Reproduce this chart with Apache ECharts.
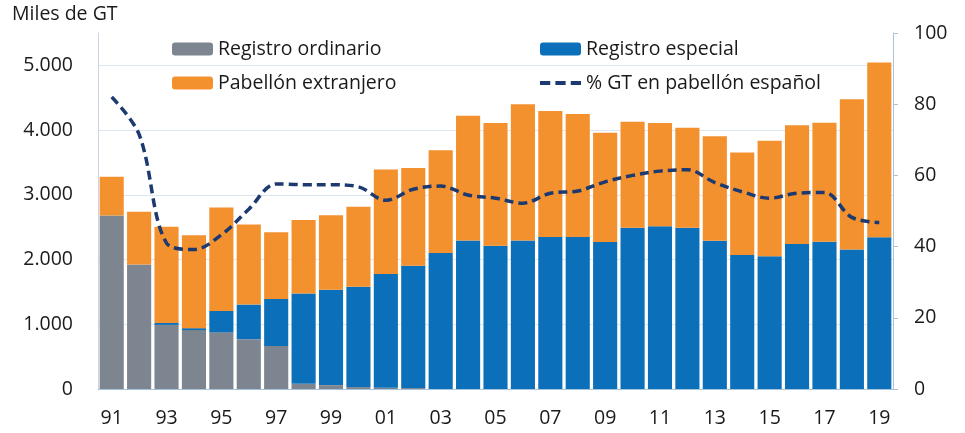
<!DOCTYPE html>
<html>
<head>
<meta charset="utf-8">
<script src="https://cdn.jsdelivr.net/npm/echarts@6/dist/echarts.min.js"></script>
<style>
  html, body { margin: 0; padding: 0; background: #fff; }
  #chart { width: 965px; height: 433px; }
</style>
</head>
<body>
<div id="chart"></div>
<script>
var years = ['91','92','93','94','95','96','97','98','99','00','01','02','03','04','05','06','07','08','09','10','11','12','13','14','15','16','17','18','19'];
var ordinario = [2680,1925,990,910,875,770,665,80,60,30,20,15,0,0,0,0,0,0,0,0,0,0,0,0,0,0,0,0,0];
var especial = [0,0,30,30,330,535,725,1395,1475,1550,1755,1890,2100,2295,2215,2295,2350,2350,2270,2490,2515,2490,2290,2070,2050,2240,2275,2155,2345];
var extranjero = [600,815,1485,1435,1600,1235,1030,1135,1150,1235,1615,1510,1590,1925,1895,2105,1945,1900,1690,1640,1595,1545,1615,1585,1785,1835,1840,2320,2700];
var pctEspanol = [82,71.5,41,39.2,43.3,50.5,57.6,57.4,57.4,56.8,53,56.1,57,54.5,53.6,52.2,55,55.6,58.2,60,61.2,61.6,58,55.4,53.6,55,55.2,48.2,46.8];

var txt = '#1a1a1a';
var axisCol = '#a8c4dc';
var fontFam = '"Open Sans", Lato, sans-serif';
var dashIcon = 'path://M0,0H10V4H0Z M15,0H25V4H15Z M30,0H40V4H30Z';

var myChart = echarts.init(document.getElementById('chart'));
var option = {
    title: {
        text: 'Miles de GT',
        left: 12,
        top: 4,
        padding: 0,
        textStyle: { fontFamily: fontFam, fontSize: 19.5, fontWeight: 'normal', color: txt }
    },
    legend: [
        {
            data: ['Registro ordinario', 'Pabellón extranjero'],
            orient: 'vertical',
            left: 172, top: 39, padding: 0,
            itemWidth: 41, itemHeight: 13, itemGap: 14,
            textStyle: { fontFamily: fontFam, fontSize: 19.5, color: txt, lineHeight: 20 }
        },
        {
            data: ['Registro especial', { name: '% GT en pabellón español', icon: dashIcon }],
            orient: 'vertical',
            left: 540, top: 39, padding: 0,
            itemWidth: 41, itemHeight: 13, itemGap: 14,
            textStyle: { fontFamily: fontFam, fontSize: 19.5, color: txt, lineHeight: 20 }
        }
    ],
    grid: { left: 98, right: 72, top: 33, bottom: 44 },
    xAxis: {
        type: 'category',
        data: years,
        axisLine: { lineStyle: { color: axisCol } },
        axisTick: { interval: 0, length: 6, lineStyle: { color: axisCol } },
        axisLabel: { interval: 1, margin: 19, fontFamily: fontFam, fontSize: 19.5, color: txt }
    },
    yAxis: [
        {
            type: 'value',
            min: 0, max: 5500, interval: 1000,
            axisLine: { show: true, lineStyle: { color: '#c9d6e2' } },
            axisTick: { show: false },
            splitLine: { showMaxLine: false, lineStyle: { color: '#dbe6f1' } },
            axisLabel: {
                showMaxLabel: false, margin: 25,
                fontFamily: fontFam, fontSize: 19.5, color: txt,
                formatter: function (v) { return v >= 1000 ? Math.floor(v / 1000) + '.' + ('00' + (v % 1000)).slice(-3) : v; }
            }
        },
        {
            type: 'value',
            min: 0, max: 100, interval: 20,
            axisLine: { show: true, lineStyle: { color: axisCol } },
            axisTick: { show: true, length: 5, lineStyle: { color: axisCol } },
            splitLine: { show: false },
            axisLabel: { margin: 21, fontFamily: fontFam, fontSize: 19.5, color: txt }
        }
    ],
    series: [
        {
            name: 'Registro ordinario', type: 'bar', stack: 'gt',
            barCategoryGap: '12%',
            itemStyle: { color: '#7c8590' },
            data: ordinario
        },
        {
            name: 'Registro especial', type: 'bar', stack: 'gt',
            itemStyle: { color: '#0b70b9' },
            data: especial
        },
        {
            name: 'Pabellón extranjero', type: 'bar', stack: 'gt',
            itemStyle: { color: '#f4912f' },
            data: extranjero
        },
        {
            name: '% GT en pabellón español', type: 'line', yAxisIndex: 1,
            smooth: 0.35,
            symbol: 'none',
            itemStyle: { color: '#1d3a70' },
            lineStyle: { color: '#1d3a70', width: 3.5, type: [9, 5] },
            data: pctEspanol,
            z: 5
        }
    ]
};
myChart.setOption(option);
</script>
</body>
</html>
